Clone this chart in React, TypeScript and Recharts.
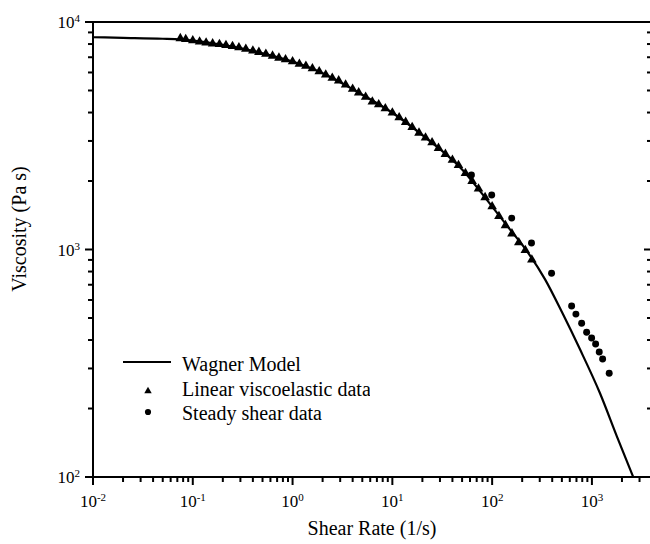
import {
  ComposedChart,
  Line,
  Scatter,
  XAxis,
  YAxis,
  Legend,
  Symbols,
} from "recharts";

// Wagner model curve
const modelRates = [0.01, 0.02, 0.05, 0.1, 0.2, 0.5, 1, 2, 5, 10, 20, 50, 100, 150, 223, 338, 512, 757, 1202, 1778, 2594];
const modelVisc = [8570, 8520, 8440, 8290, 7940, 7290, 6700, 5960, 4790, 3990, 3180, 2250, 1544, 1229, 984, 741, 520, 365, 234, 151, 100];

// linear viscoelastic data (triangles)
const lveRates = [
  0.075, 0.085, 0.1, 0.117, 0.136, 0.158, 0.185, 0.215, 0.25, 0.29, 0.34, 0.4, 0.46, 0.54, 0.63, 0.73, 0.85,
  1, 1.17, 1.36, 1.58, 1.85, 2.15, 2.5, 2.9, 3.4, 4, 4.6, 5.4, 6.3, 7.3, 8.5,
  10, 11.7, 13.6, 15.8, 18.5, 21.5, 25, 29, 34, 40, 46, 54, 63, 73, 85,
  100, 117, 136, 158, 185, 215, 250,
];
const lveVisc = [
  8470, 8395, 8290, 8192, 8110, 8035, 7978, 7907, 7827, 7725, 7609, 7479, 7373, 7233, 7094, 6952, 6841,
  6704, 6542, 6405, 6245, 6058, 5865, 5673, 5526, 5302, 5076, 4894, 4681, 4463, 4338, 4166,
  3991, 3802, 3629, 3443, 3255, 3096, 2952, 2789, 2625, 2473, 2346, 2165, 1997, 1849, 1695,
  1544, 1400, 1276, 1174, 1074, 992, 902,
];

// steady shear data (circles)
const steadyRates = [62, 99, 157, 248, 394, 626, 691, 789, 885, 993, 1089, 1184, 1280, 1490];
const steadyVisc = [2124, 1735, 1374, 1067, 787, 564, 520, 474, 433, 408, 384, 354, 330, 286];

const xTicks = [
  0.01, 0.02, 0.03, 0.04, 0.05, 0.06, 0.07, 0.08, 0.09,
  0.1, 0.2, 0.3, 0.4, 0.5, 0.6, 0.7, 0.8, 0.9,
  1, 2, 3, 4, 5, 6, 7, 8, 9,
  10, 20, 30, 40, 50, 60, 70, 80, 90,
  100, 200, 300, 400, 500, 600, 700, 800, 900,
  1000, 2000, 3000,
];
const yTicks = [100, 200, 300, 400, 500, 600, 700, 800, 900, 1000, 2000, 3000, 4000, 5000, 6000, 7000, 8000, 9000, 10000];

const modelData = modelRates.map((x, i) => ({ x, y: modelVisc[i] }));
const lveData = lveRates.map((x, i) => ({ x, y: lveVisc[i] }));
const steadyData = steadyRates.map((x, i) => ({ x, y: steadyVisc[i] }));

const FONT = "'Liberation Serif', 'Times New Roman', serif";

const isDecade = (v: number) => Math.abs(Math.log10(v) - Math.round(Math.log10(v))) < 1e-6;
const expOf = (v: number) => String(Math.round(Math.log10(v)));

const Pow = ({ x, y, v, anchor }: any) => (
  <text x={x} y={y} textAnchor={anchor} fontFamily={FONT} fontSize={17} fill="#000">
    10
    <tspan dy={-6} fontSize={11}>
      {expOf(v)}
    </tspan>
  </text>
);

const BottomTick = ({ x, y, payload }: any) => {
  const major = isDecade(payload.value);
  return (
    <g>
      <line x1={x} y1={y} x2={x} y2={y + (major ? 8 : 5)} stroke="#000" strokeWidth={2} />
      {major && <Pow x={x} y={y + 30} v={payload.value} anchor="middle" />}
    </g>
  );
};

const TopTick = ({ x, y, payload }: any) => {
  const major = isDecade(payload.value);
  return <line x1={x} y1={y} x2={x} y2={y + (major ? 8 : 4)} stroke="#000" strokeWidth={2} />;
};

const LeftTick = ({ x, y, payload }: any) => {
  const major = isDecade(payload.value);
  return (
    <g>
      <line x1={x} y1={y} x2={x - (major ? 8 : 5)} y2={y} stroke="#000" strokeWidth={2} />
      {major && <Pow x={x - 13} y={y + 6} v={payload.value} anchor="end" />}
    </g>
  );
};

const RightTick = ({ x, y, payload }: any) => {
  const major = isDecade(payload.value);
  return <line x1={x} y1={y} x2={x - (major ? 8 : 5)} y2={y} stroke="#000" strokeWidth={2} />;
};

const LegendBox = () => (
  <svg width={260} height={85}>
    <line x1={13} y1={17} x2={61} y2={17} stroke="#000" strokeWidth={2.2} />
    <text x={72} y={25.5} fontFamily={FONT} fontSize={20} fill="#000">Wagner Model</text>
    <Symbols cx={38} cy={46} type="triangle" size={24} fill="#000" />
    <text x={72} y={50.5} fontFamily={FONT} fontSize={20} fill="#000">Linear viscoelastic data</text>
    <Symbols cx={38} cy={67} type="circle" size={30} fill="#000" />
    <text x={72} y={74.5} fontFamily={FONT} fontSize={20} fill="#000">Steady shear data</text>
  </svg>
);

const App = () => {
  return (
    <div
      style={{
        position: "absolute",
        left: 0,
        top: 0,
        width: 650,
        height: 544,
        overflow: "hidden",
        background: "#fff",
      }}
    >
      <ComposedChart width={660} height={544} margin={{ top: 21, right: 7, bottom: 0, left: 0 }}>
        <XAxis
          xAxisId="bottom"
          dataKey="x"
          type="number"
          scale="log"
          domain={[0.01, 4000]}
          allowDataOverflow
          ticks={xTicks}
          interval={0}
          height={67}
          tickSize={0}
          tickMargin={0}
          tickLine={false}
          tick={BottomTick}
          axisLine={{ stroke: "#000", strokeWidth: 2 }}
          label={() => (
            <text x={372} y={535} textAnchor="middle" fontFamily={FONT} fontSize={20} fill="#000">
              Shear Rate (1/s)
            </text>
          )}
        />
        <XAxis
          xAxisId="top"
          orientation="top"
          type="number"
          scale="log"
          domain={[0.01, 4000]}
          allowDataOverflow
          ticks={xTicks}
          interval={0}
          height={1}
          tickSize={0}
          tickMargin={0}
          tickLine={false}
          tick={TopTick}
          axisLine={{ stroke: "#000", strokeWidth: 2 }}
        />
        <YAxis
          yAxisId="left"
          dataKey="y"
          type="number"
          scale="log"
          domain={[100, 10000]}
          allowDataOverflow
          ticks={yTicks}
          interval={0}
          width={93}
          tickSize={0}
          tickMargin={0}
          tickLine={false}
          tick={LeftTick}
          axisLine={{ stroke: "#000", strokeWidth: 2 }}
          label={() => (
            <text
              transform="translate(26,229) rotate(-90)"
              textAnchor="middle"
              fontFamily={FONT}
              fontSize={20}
              fill="#000"
            >
              Viscosity (Pa s)
            </text>
          )}
        />
        <YAxis
          yAxisId="right"
          orientation="right"
          type="number"
          scale="log"
          domain={[100, 10000]}
          allowDataOverflow
          ticks={yTicks}
          interval={0}
          width={1}
          tickSize={0}
          tickMargin={0}
          tickLine={false}
          tick={RightTick}
          axisLine={{ stroke: "#000", strokeWidth: 2 }}
        />
        <Legend
          layout="vertical"
          align="center"
          verticalAlign="middle"
          wrapperStyle={{ left: 110, top: 345, width: 260, height: 85 }}
          content={LegendBox}
        />
        <Line
          xAxisId="bottom"
          yAxisId="left"
          data={modelData}
          dataKey="y"
          type="monotone"
          stroke="#000"
          strokeWidth={2.2}
          dot={false}
          activeDot={false}
          isAnimationActive={false}
        />
        <Scatter
          xAxisId="bottom"
          yAxisId="left"
          data={lveData}
          dataKey="y"
          isAnimationActive={false}
          shape={(p: any) => <Symbols cx={p.cx} cy={p.cy} type="triangle" size={40} fill="#000" />}
        />
        <Scatter
          xAxisId="bottom"
          yAxisId="left"
          data={steadyData}
          dataKey="y"
          isAnimationActive={false}
          shape={(p: any) => <Symbols cx={p.cx} cy={p.cy} type="circle" size={38} fill="#000" />}
        />
      </ComposedChart>
    </div>
  );
};

export default App;
